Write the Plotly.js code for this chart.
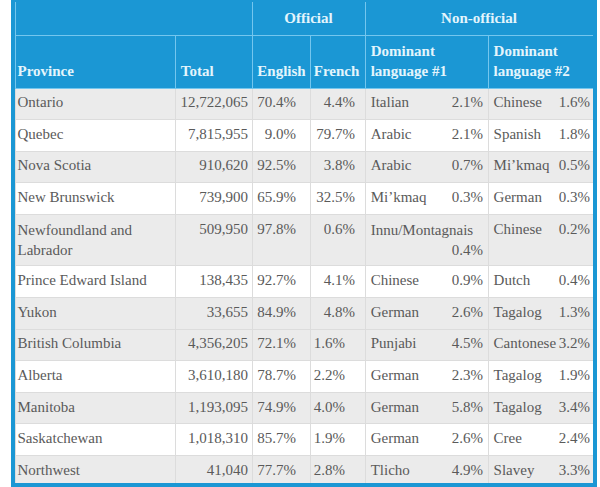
<!DOCTYPE html>
<html><head><meta charset="utf-8">
<script src="https://cdn.plot.ly/plotly-3.0.1.min.js"></script>
<style>html,body{margin:0;padding:0;background:#fff}#chart{width:600px;height:487px}</style>
</head><body><div id="chart"></div>
<script>
// ---------- data ----------
const provinces = ["Ontario","Quebec","Nova Scotia","New Brunswick","Newfoundland and Labrador","Prince Edward Island","Yukon","British Columbia","Alberta","Manitoba","Saskatchewan","Northwest"];
const totals = [12722065,7815955,910620,739900,509950,138435,33655,4356205,3610180,1193095,1018310,41040];
const englishPct = [70.4,9.0,92.5,65.9,97.8,92.7,84.9,72.1,78.7,74.9,85.7,77.7];
const frenchPct = [4.4,79.7,3.8,32.5,0.6,4.1,4.8,1.6,2.2,4.0,1.9,2.8];
const dom1Lang = ["Italian","Arabic","Arabic","Mi\u2019kmaq","Innu/Montagnais","Chinese","German","Punjabi","German","German","German","Tlicho"];
const dom1Pct = [2.1,2.1,0.7,0.3,0.4,0.9,2.6,4.5,2.3,5.8,2.6,4.9];
const dom2Lang = ["Chinese","Spanish","Mi\u2019kmaq","German","Chinese","Dutch","Tagalog","Cantonese","Tagalog","Tagalog","Cree","Slavey"];
const dom2Pct = [1.6,1.8,0.5,0.3,0.2,0.4,1.3,3.2,1.9,3.4,2.4,3.3];
const groupHeaders = ["", "Official", "Non-official"];
const columnHeaders = ["Province","Total","English","French","Dominant language #1","Dominant language #2"];

// ---------- style ----------
const W = 600, H = 487;
const left = 15, right = 593, groupBottom = 35;
const colWidths = [160,77,58,55,123,105];
const groupWidths = [237,113,228];
// column edges used for text placement (text sits 8px inside these)
const leftTextEdges = [9.5,173,249.5,306,363,486,590];
const rightTextEdges = [19,180,256,304,363,491,598];
const blue = '#1b97d4', headLine = '#74c6ee', headText = '#e4f5fc';
const bodyText = '#5a5a5a', gray = '#ebebeb', white = '#ffffff', bodyLine = '#dcdcdc';
const NB = '\u00a0', T = 'rgba(0,0,0,0)';
const leftAlignFrom = 7;  // lower block has left-aligned official percentages
const rowShade = [1,0,1,0,1,0,1,1,0,1,0,1];
const bodyFont = {family: 'Liberation Serif', size: 15, color: bodyText};
const headFont = {family: 'Liberation Serif', size: 15, color: headText, weight: 'bold'};
const cellH = 31.6, headH = 53;

function wrap(s, lim) {
  if (s.length <= lim) return s;
  const w = s.split(' '); let line = '', out = [];
  w.forEach(x => { if ((line + ' ' + x).trim().length > lim - 4 && line) { out.push(line); line = x; } else line = (line + ' ' + x).trim(); });
  out.push(line); return out.join('<br>');
}
const pct = v => v.toFixed(1) + '%';
const provText = provinces.map(p => wrap(p, 20));
const twoLine = provinces.map((p, i) => provText[i].includes('<br>') || dom1Lang[i].length > 12);
const px = x => x / W, py = y => 1 - y / H;
const rowFills = rowShade.map(s => s ? gray : white);
const noLine = {color: T, width: 0}, noFill = {color: T};
const bodyDomY = [0, py(groupBottom)];
const widthsOf = e => e.slice(1).map((v, i) => v - e[i]);

// A: fills + lines
const traceA = {
  type: 'table', domain: {x: [px(left), px(right)], y: bodyDomY},
  columnwidth: colWidths,
  header: {values: columnHeaders.map(() => NB + '<br>' + NB), fill: {color: blue}, line: {color: headLine, width: 1}, font: headFont, height: headH},
  cells: {values: colWidths.map(() => twoLine.map(t => t ? NB + '<br>' + NB : '')),
          fill: {color: colWidths.map(() => rowFills)}, line: {color: bodyLine, width: 1}, font: bodyFont, height: cellH}
};
// B: left aligned text
const hdrB = columnHeaders.map(h => h.startsWith('Dominant') ? h.replace('Dominant ', 'Dominant<br>') : NB + '<br>' + h);
const traceB = {
  type: 'table', domain: {x: [px(leftTextEdges[0]), px(leftTextEdges[6])], y: bodyDomY},
  columnwidth: widthsOf(leftTextEdges),
  header: {values: hdrB, align: 'left', fill: noFill, line: noLine, font: headFont, height: headH},
  cells: {values: [
    provText,
    provinces.map(() => ''),
    englishPct.map((v, i) => i >= leftAlignFrom ? pct(v) : ''),
    frenchPct.map((v, i) => i >= leftAlignFrom ? pct(v) : ''),
    dom1Lang.map((l, i) => twoLine[i] ? l + '<br>' + NB : l),
    dom2Lang
  ], align: 'left', fill: noFill, line: noLine, font: bodyFont, height: cellH}
};
// C: right aligned text
const traceC = {
  type: 'table', domain: {x: [px(rightTextEdges[0]), px(rightTextEdges[6])], y: bodyDomY},
  columnwidth: widthsOf(rightTextEdges),
  header: {values: columnHeaders.map(() => NB + '<br>' + NB), fill: noFill, line: noLine, font: headFont, height: headH},
  cells: {values: [
    provinces.map(() => ''),
    totals.map(v => v.toLocaleString('en-US')),
    englishPct.map((v, i) => i < leftAlignFrom ? pct(v) : ''),
    frenchPct.map((v, i) => i < leftAlignFrom ? pct(v) : ''),
    dom1Pct.map((v, i) => twoLine[i] ? NB + '<br>' + pct(v) : pct(v)),
    dom2Pct.map(pct)
  ], align: 'right', fill: noFill, line: noLine, font: bodyFont, height: cellH}
};
// D: group header row (background + lines)
const traceD = {
  type: 'table', domain: {x: [px(left), px(right)], y: [py(groupBottom), 1]},
  columnwidth: groupWidths,
  header: {values: groupHeaders.map(() => ''), fill: {color: blue}, line: {color: headLine, width: 1}, font: headFont, height: groupBottom},
  cells: {values: [[], [], []]}
};
// E: group header labels (slightly lowered)
const traceE = {
  type: 'table', domain: {x: [px(left), px(right)], y: [py(groupBottom + 4), py(4)]},
  columnwidth: groupWidths,
  header: {values: groupHeaders, align: 'center', fill: noFill, line: noLine, font: headFont, height: groupBottom},
  cells: {values: [[], [], []]}
};

const layout = {
  width: W, height: H, margin: {l: 0, r: 0, t: 0, b: 0},
  paper_bgcolor: '#ffffff', showlegend: false,
  shapes: [{type: 'rect', xref: 'paper', yref: 'paper', layer: 'above',
            x0: px(13), x1: px(595), y0: py(0), y1: py(485),
            line: {color: blue, width: 4}, fillcolor: T}]
};
Plotly.newPlot('chart', [traceD, traceA, traceE, traceB, traceC], layout, {staticPlot: true, displayModeBar: false});
</script></body></html>
